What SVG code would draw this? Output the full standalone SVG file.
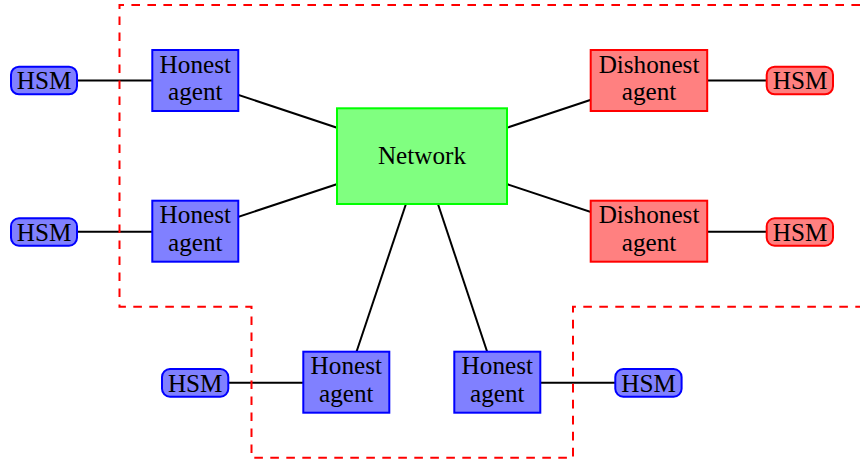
<svg xmlns="http://www.w3.org/2000/svg" width="867" height="462" viewBox="0 0 867 462">
<style>
text{font-family:"Liberation Serif","Times New Roman",serif;font-size:25.2px;fill:#000;text-anchor:middle}
.hon{fill:#8080ff;stroke:#0000ff;stroke-width:2}
.dis{fill:#ff8080;stroke:#ff0000;stroke-width:2}
.net{fill:#80ff80;stroke:#00ff00;stroke-width:2}
.conn line{stroke:#000;stroke-width:2}
.zone{fill:none;stroke:#ff0000;stroke-width:2;stroke-dasharray:8.6 7.4}
</style>
<g id="connectors" class="conn">
<line x1="195" y1="80.5" x2="422" y2="156"/>
<line x1="195" y1="231.2" x2="422" y2="156"/>
<line x1="648.8" y1="80.5" x2="422" y2="156"/>
<line x1="648.8" y1="231.2" x2="422" y2="156"/>
<line x1="346.3" y1="382.3" x2="422" y2="156"/>
<line x1="497.3" y1="382.3" x2="422" y2="156"/>
<line x1="44" y1="80.5" x2="195" y2="80.5"/>
<line x1="44" y1="231.8" x2="195" y2="231.8"/>
<line x1="648.8" y1="80.5" x2="800" y2="80.5"/>
<line x1="648.8" y1="231.8" x2="800" y2="231.8"/>
<line x1="195" y1="382.8" x2="346.3" y2="382.8"/>
<line x1="497.3" y1="382.8" x2="648.5" y2="382.8"/>
</g>
<path id="boundary" class="zone" d="M860,5 H119.5 V306.7 H251.5 V457.7 H573 V306.7 H860"/>
<g id="network">
<rect class="net" x="337" y="108.3" width="170" height="95.7"/>
<text x="422" y="164">Network</text>
</g>
<g id="honest1">
<rect class="hon" x="152.3" y="50" width="86" height="61"/>
<text x="195.3" y="72.7">Honest</text><text x="195.3" y="100">agent</text>
</g>
<g id="honest2">
<rect class="hon" x="152.3" y="200.7" width="86" height="61"/>
<text x="195.3" y="223.4">Honest</text><text x="195.3" y="250.7">agent</text>
</g>
<g id="honest3">
<rect class="hon" x="303.3" y="351.7" width="86" height="61"/>
<text x="346.3" y="374.4">Honest</text><text x="346.3" y="401.7">agent</text>
</g>
<g id="honest4">
<rect class="hon" x="454.3" y="351.7" width="86" height="61"/>
<text x="497.3" y="374.4">Honest</text><text x="497.3" y="401.7">agent</text>
</g>
<g id="dishonest1">
<rect class="dis" x="590.7" y="50" width="116.5" height="61"/>
<text x="649" y="72.7">Dishonest</text><text x="649" y="100">agent</text>
</g>
<g id="dishonest2">
<rect class="dis" x="590.7" y="200.7" width="116.5" height="61"/>
<text x="649" y="223.4">Dishonest</text><text x="649" y="250.7">agent</text>
</g>
<g id="hsm1">
<rect class="hon" x="11" y="66.7" width="66" height="27.6" rx="8"/>
<text x="44" y="89.3">HSM</text>
</g>
<g id="hsm2">
<rect class="hon" x="11" y="218.3" width="66" height="27.4" rx="8"/>
<text x="44" y="240.8">HSM</text>
</g>
<g id="hsm3">
<rect class="dis" x="766.7" y="66.7" width="66.3" height="27.6" rx="8"/>
<text x="800" y="89.3">HSM</text>
</g>
<g id="hsm4">
<rect class="dis" x="766.7" y="218.3" width="66.3" height="27.4" rx="8"/>
<text x="800" y="240.8">HSM</text>
</g>
<g id="hsm5">
<rect class="hon" x="162" y="369" width="66.3" height="27.7" rx="8"/>
<text x="195.2" y="391.6">HSM</text>
</g>
<g id="hsm6">
<rect class="hon" x="615.3" y="369" width="66.3" height="27.7" rx="8"/>
<text x="648.5" y="391.6">HSM</text>
</g>
</svg>
